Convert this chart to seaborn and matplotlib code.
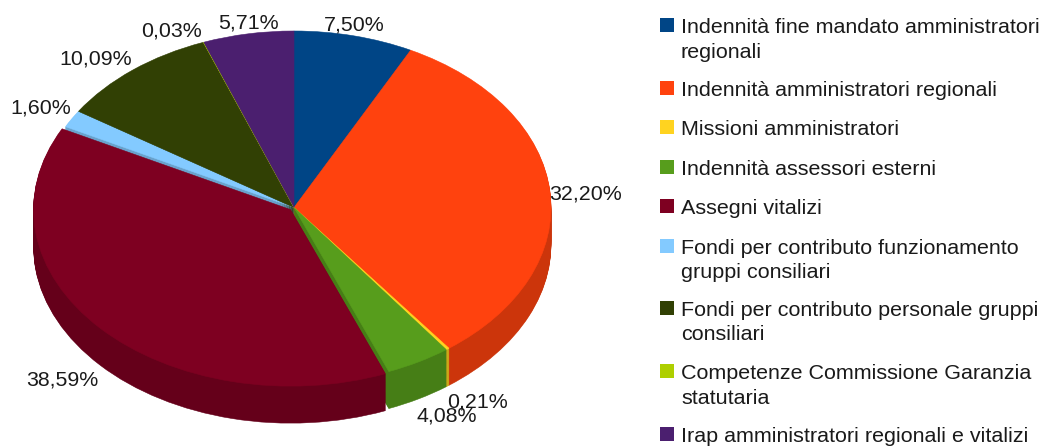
import matplotlib
matplotlib.use('Agg')
import matplotlib.pyplot as plt
import seaborn as sns
from matplotlib.patches import Rectangle

W, H = 1049, 446

# Chart values
categories = ['Indennità fine mandato amministratori\nregionali',
              'Indennità amministratori regionali',
              'Missioni amministratori',
              'Indennità assessori esterni',
              'Assegni vitalizi',
              'Fondi per contributo funzionamento\ngruppi consiliari',
              'Fondi per contributo personale gruppi\nconsiliari',
              'Competenze Commissione Garanzia\nstatutaria',
              'Irap amministratori regionali e vitalizi']
values = [7.50, 32.20, 0.21, 4.08, 38.59, 1.60, 10.09, 0.03, 5.71]
value_labels = ['7,50%', '32,20%', '0,21%', '4,08%', '38,59%', '1,60%', '10,09%', '0,03%', '5,71%']
colors = ['#004586', '#ff420e', '#ffd320', '#579d1c', '#7e0021', '#83caff', '#314004', '#aecf00', '#4b1f6f']

# Layout in reference pixels
label_xy = [(354, 25), (586, 194), (478, 402), (447, 416), (62, 380), (41, 108), (96, 59), (172, 31), (248, 23)]
legend_y = [26, 89, 128, 168, 207, 247, 309, 372, 435]
cx, cy, rx, ry = 294, 207.5, 257, 176.5
depth = 37 / ry
LAYERS = 40
RAISED = 4  # Assegni vitalizi sits slightly out of the pie

sns.set_theme(style='white')
plt.rcParams['font.family'] = ['Liberation Sans', 'DejaVu Sans']
palette = sns.color_palette(colors)
side_palette = [tuple(c * 0.8 for c in col) for col in palette]

fig = plt.figure(figsize=(W / 100, H / 100), dpi=100)
ax = fig.add_axes([0, 0, 1, 1])


def draw_pie(cols, offset=0.0, explode=None):
    wedges, _ = ax.pie(values, colors=cols, startangle=90, counterclock=False, radius=1,
                       center=(0, -offset), explode=explode, normalize=True)
    # close the hairline seams between neighbouring slices
    for w in wedges:
        w.set_edgecolor(w.get_facecolor())
        w.set_linewidth(0.4)


# the rest of the pie first, then the raised slice on top of it
rest = ['none' if i == RAISED else c for i, c in enumerate(palette)]
rest_side = ['none' if i == RAISED else c for i, c in enumerate(side_palette)]
only = ['none' if i != RAISED else c for i, c in enumerate(palette)]
only_side = ['none' if i != RAISED else c for i, c in enumerate(side_palette)]
explode = [0.018 if i == RAISED else 0 for i in range(len(values))]

for k in range(LAYERS, 0, -1):
    draw_pie(rest_side, depth * k / LAYERS)
draw_pie(rest)
for k in range(LAYERS, 0, -1):
    draw_pie(only_side, depth * k / LAYERS, explode)
draw_pie(only, 0, explode)

ax.set_aspect('auto')
ax.set_xlim(-cx / rx, (W - cx) / rx)
ax.set_ylim((cy - H) / ry, cy / ry)
ax.set_axis_off()

# value labels
for text, (x, y) in zip(value_labels, label_xy):
    fig.text(x / W, 1 - y / H, text, fontsize=15.4, color='#1a1a1a', ha='center', va='center')

# legend, first line of each entry lines up with its square
for name, col, y in zip(categories, palette, legend_y):
    fig.add_artist(Rectangle((660 / W, 1 - (y + 6) / H), 14 / W, 14 / H,
                             transform=fig.transFigure, facecolor=col, edgecolor='none'))
    for i, line in enumerate(name.split('\n')):
        fig.text(681 / W, 1 - (y + 1.5 + i * 24.5) / H, line, fontsize=15.45, color='#1a1a1a',
                 ha='left', va='center')

fig.savefig('out.png', dpi=100)
